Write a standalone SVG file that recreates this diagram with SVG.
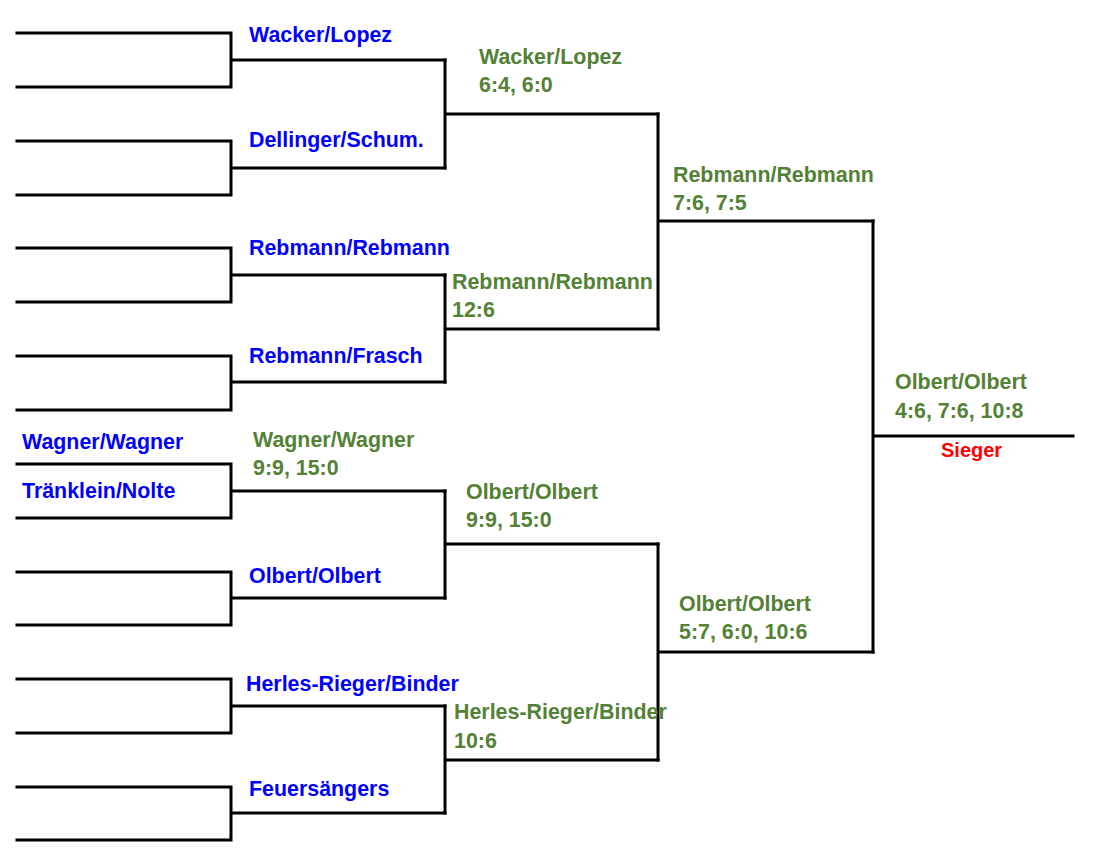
<svg xmlns="http://www.w3.org/2000/svg" width="1101" height="855" viewBox="0 0 1101 855">
<style>
.ln{fill:none;stroke:#000;stroke-width:3;stroke-linejoin:miter;stroke-linecap:square}
.t{font-family:"Liberation Sans",Arial,sans-serif;font-weight:bold;font-size:21.4px}
.b{fill:#0000ff}
.g{fill:#538135}
.r{fill:#ff0000;font-size:20px}
</style>
<rect width="1101" height="855" fill="#fff"/>
<g id="connectors">
<path class="ln" d="M17,33 H231 V87 H17 M231,60 H445"/>
<path class="ln" d="M17,141 H231 V195 H17 M231,168 H445"/>
<path class="ln" d="M445,60 V168 M445,114 H658"/>
<path class="ln" d="M17,248 H231 V302 H17 M231,275 H445"/>
<path class="ln" d="M17,356 H231 V410 H17 M231,382 H445"/>
<path class="ln" d="M445,275 V382 M445,329 H658"/>
<path class="ln" d="M658,114 V329 M658,221 H873"/>
<path class="ln" d="M17,464 H231 V518 H17 M231,491 H445"/>
<path class="ln" d="M17,572 H231 V625 H17 M231,598 H445"/>
<path class="ln" d="M445,491 V598 M445,544 H658"/>
<path class="ln" d="M17,679 H231 V733 H17 M231,706 H445"/>
<path class="ln" d="M17,787 H231 V840 H17 M231,813 H445"/>
<path class="ln" d="M445,706 V813 M445,760 H658"/>
<path class="ln" d="M658,544 V760 M658,652 H873"/>
<path class="ln" d="M873,221 V652 M873,436 H1073"/>
</g>
<g id="r1-wacker"><text class="t b" x="249" y="42">Wacker/Lopez</text></g>
<g id="r1-dellinger"><text class="t b" x="249" y="147">Dellinger/Schum.</text></g>
<g id="r1-rebmann"><text class="t b" x="249" y="255">Rebmann/Rebmann</text></g>
<g id="r1-frasch"><text class="t b" x="249" y="363">Rebmann/Frasch</text></g>
<g id="r0-wagner"><text class="t b" x="22" y="449">Wagner/Wagner</text></g>
<g id="r0-traenklein"><text class="t b" x="22" y="498">Tränklein/Nolte</text></g>
<g id="r1-olbert"><text class="t b" x="249" y="583">Olbert/Olbert</text></g>
<g id="r1-herles"><text class="t b" x="246" y="691">Herles-Rieger/Binder</text></g>
<g id="r1-feuer"><text class="t b" x="249" y="796">Feuersängers</text></g>
<g id="w-wagner"><text class="t g" x="253" y="447">Wagner/Wagner</text><text class="t g" x="253" y="475">9:9, 15:0</text></g>
<g id="r2-wacker"><text class="t g" x="479" y="64">Wacker/Lopez</text><text class="t g" x="479" y="92">6:4, 6:0</text></g>
<g id="r2-rebmann"><text class="t g" x="452" y="289">Rebmann/Rebmann</text><text class="t g" x="452" y="317">12:6</text></g>
<g id="r2-olbert"><text class="t g" x="466" y="499">Olbert/Olbert</text><text class="t g" x="466" y="527">9:9, 15:0</text></g>
<g id="r2-herles"><text class="t g" x="454" y="719">Herles-Rieger/Binder</text><text class="t g" x="454" y="748">10:6</text></g>
<g id="r3-rebmann"><text class="t g" x="673" y="182">Rebmann/Rebmann</text><text class="t g" x="673" y="210">7:6, 7:5</text></g>
<g id="r3-olbert"><text class="t g" x="679" y="611">Olbert/Olbert</text><text class="t g" x="679" y="639">5:7, 6:0, 10:6</text></g>
<g id="final"><text class="t g" x="895" y="389">Olbert/Olbert</text><text class="t g" x="895" y="418">4:6, 7:6, 10:8</text><text class="t r" x="941" y="457">Sieger</text></g>
</svg>
